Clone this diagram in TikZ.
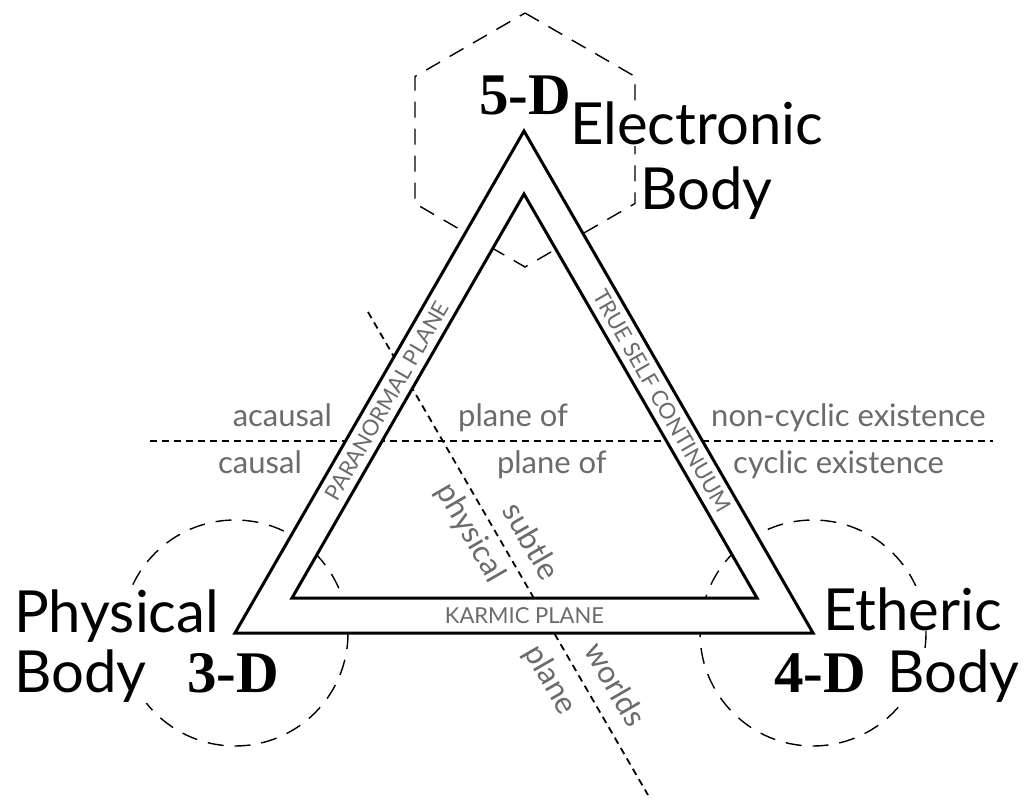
\documentclass[tikz,border=0pt]{standalone}
\usepackage{fontspec}
\setmainfont{Lato}
\newfontfamily\dimfont{Liberation Serif}
\definecolor{labgray}{HTML}{6B6B6B}
\begin{document}
\begin{tikzpicture}[x=1pt,y=-1pt,
  bigdash/.style={line width=1.4pt, dash pattern=on 16pt off 11pt},
  smalldash/.style={line width=1.8pt, dash pattern=on 7pt off 5pt},
  bodytext/.style={font=\fontsize{58}{63}\selectfont, inner sep=1pt, fill=white, anchor=base west},
  dimlabel/.style={font=\dimfont\bfseries\fontsize{59}{64}\selectfont, inner sep=0pt, anchor=base west},
  graylabel/.style={text=labgray, font=\fontsize{31}{36}\selectfont, inner sep=0pt},
  planelabel/.style={text=labgray, font=\fontsize{22}{25}\selectfont, inner sep=0pt},
  frameline/.style={line width=3pt, line join=miter}
]
\useasboundingbox (0,0) rectangle (1032,802);
\fill[white] (0,0) rectangle (1032,802);

% corners
\coordinate (OA) at (524,131);
\coordinate (OL) at (235,633);
\coordinate (OR) at (813,633);
\coordinate (IA) at (524,194);
\coordinate (IL) at (292,598);
\coordinate (IR) at (757,598);

% hexagon around the apex
\coordinate (H1) at (525,13);
\coordinate (H2) at (635,76.5);
\coordinate (H3) at (635,203.5);
\coordinate (H4) at (525,267);
\coordinate (H5) at (415,203.5);
\coordinate (H6) at (415,76.5);
\draw[bigdash] (H1) -- (H2) -- (H3) -- (H4) -- (H5) -- (H6) -- cycle;

% circles around the base corners
\draw[bigdash] (OL) circle[radius=113];
\draw[bigdash] (OR) circle[radius=113];

% dashed dividing lines
\coordinate (hl) at (150,441);
\coordinate (hr) at (993,441);
\draw[smalldash] (hl) -- (hr);
\coordinate (dt) at (368,312);
\coordinate (db) at (648,795);
\draw[smalldash] (dt) -- (db);

% triangle band
\fill[white, even odd rule] (OA) -- (OL) -- (OR) -- cycle (IA) -- (IL) -- (IR) -- cycle;
\draw[frameline] (OA) -- (OL) -- (OR) -- cycle;
\draw[frameline] (IA) -- (IL) -- (IR) -- cycle;

% band labels
\node[planelabel, rotate=60] (para) at (387,401) {PARANORMAL PLANE};
\node[planelabel, rotate=-60] (tsc) at (662,401) {TRUE SELF CONTINUUM};
\node[planelabel] (karm) at (524.5,616) {KARMIC PLANE};

% body labels
\node[bodytext] (elec) at (569,145) {Electronic};
\node[bodytext] (elecb) at (639,210) {Body};
\node[dimlabel] (d5) at (479,115) {5-D};
\node[bodytext] (phys) at (13,632) {Physical};
\node[bodytext] (physb) at (13,692) {Body};
\node[dimlabel] (d3) at (187,692) {3-D};
\node[bodytext] (eth) at (822,630) {Etheric};
\node[dimlabel] (d4) at (774,692) {4-D};
\node[bodytext] (ethb) at (886,692) {Body};

% plane labels
\node[graylabel, anchor=base east] (acaus) at (332,426) {acausal};
\node[graylabel, anchor=base east] (caus) at (302,473) {causal};
\node[graylabel, anchor=base west] (pofa) at (458,426) {plane of};
\node[graylabel, anchor=base east] (pofb) at (607,473) {plane of};
\node[graylabel, anchor=base west] (noncyc) at (711,426) {non-cyclic existence};
\node[graylabel, anchor=base west] (cyc) at (733,473) {cyclic existence};

% worlds labels
\node[graylabel, rotate=-60] (lphys) at (470,533) {physical};
\node[graylabel, rotate=-60] (lsub) at (532,541) {subtle};
\node[graylabel, rotate=-60] (lplane) at (550,680) {plane};
\node[graylabel, rotate=-60] (lworlds) at (616,684) {worlds};
\end{tikzpicture}
\end{document}
